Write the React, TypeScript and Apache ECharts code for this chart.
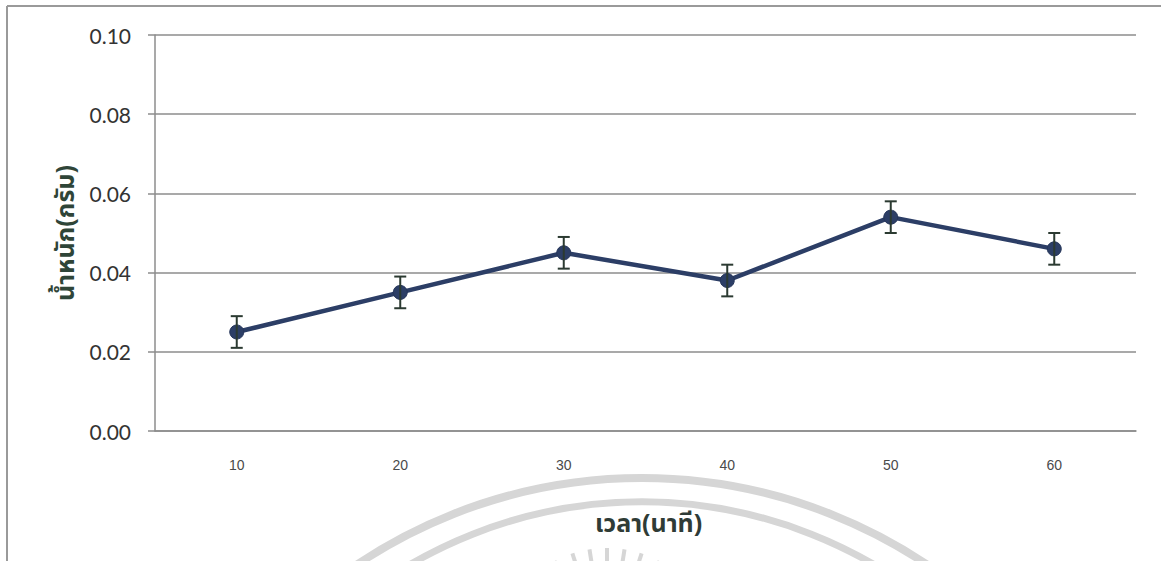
import React, { useEffect, useRef } from "react";
import * as echarts from "echarts";

// Time points (minutes) and measured weight (grams) with ± error
const categories = ["10", "20", "30", "40", "50", "60"];
const weights = [0.025, 0.035, 0.045, 0.038, 0.054, 0.046];
const errors = [0.004, 0.004, 0.004, 0.004, 0.004, 0.004];
const yTicks = { min: 0, max: 0.1, interval: 0.02 };

const xTitle = "เวลา(นาที)";
const yTitle = "น้ำหนัก(กรัม)";

const THAI_FONT =
  "'Noto Sans Thai', 'Tlwg Typist', 'Garuda', 'Loma', 'Norasi', 'Noto Sans', 'DejaVu Sans', sans-serif";

export default function App() {
  const ref = useRef<HTMLDivElement>(null);

  useEffect(() => {
    if (!ref.current) return;
    const chart = echarts.init(ref.current, null, { renderer: "svg" });

    const errData = weights.map((w, i) => [i, w - errors[i], w + errors[i]]);

    // faint seal arcs and rays in the lower band
    const wmColor = "#d6d6d6";
    const rays: any[] = [];
    const rayAngles = [-28, -18, -9, 0, 9, 18, 28];
    const rc = { x: 607, y: 660 };
    rayAngles.forEach((a) => {
      const rad = (a * Math.PI) / 180;
      const r1 = 98;
      const r2 = 112;
      rays.push({
        type: "line",
        z: -10,
        silent: true,
        shape: {
          x1: rc.x + Math.sin(rad) * r1,
          y1: rc.y - Math.cos(rad) * r1,
          x2: rc.x + Math.sin(rad) * r2,
          y2: rc.y - Math.cos(rad) * r2,
        },
        style: { stroke: wmColor, lineWidth: 4 },
      });
    });

    chart.setOption({
      animation: false,
      backgroundColor: "#ffffff",
      grid: { left: 155, right: 25, top: 35, bottom: 130, containLabel: false },
      graphic: [
        {
          type: "arc",
          z: -10,
          silent: true,
          shape: { cx: 642, cy: 990, r: 512, startAngle: Math.PI, endAngle: 2 * Math.PI },
          style: { stroke: wmColor, lineWidth: 8, fill: "none" },
        },
        {
          type: "arc",
          z: -10,
          silent: true,
          shape: { cx: 642, cy: 962, r: 460, startAngle: Math.PI, endAngle: 2 * Math.PI },
          style: { stroke: wmColor, lineWidth: 7, fill: "none" },
        },
        ...rays,
        {
          type: "line",
          silent: true,
          shape: { x1: 7, y1: 6, x2: 1161, y2: 6 },
          style: { stroke: "#9a9a9a", lineWidth: 2 },
        },
        {
          type: "line",
          silent: true,
          shape: { x1: 7, y1: 6, x2: 7, y2: 561 },
          style: { stroke: "#9a9a9a", lineWidth: 2 },
        },
      ],
      xAxis: {
        type: "category",
        data: categories,
        boundaryGap: true,
        name: xTitle,
        nameLocation: "middle",
        nameGap: 80,
        nameTextStyle: {
          fontFamily: THAI_FONT,
          fontSize: 25,
          fontWeight: "bold",
          color: "#2f3b36",
          padding: [0, 0, 0, 6],
        },
        axisLine: { lineStyle: { color: "#8c8c8c", width: 1.5 } },
        axisTick: { show: false },
        axisLabel: {
          margin: 27,
          fontFamily: "'Liberation Sans', Arial, sans-serif",
          fontSize: 14,
          color: "#4a4a4a",
        },
        splitLine: { show: false },
      },
      yAxis: {
        type: "value",
        min: yTicks.min,
        max: yTicks.max,
        interval: yTicks.interval,
        name: yTitle,
        nameLocation: "middle",
        nameGap: 70,
        nameRotate: 90,
        nameTextStyle: {
          fontFamily: THAI_FONT,
          fontSize: 25,
          fontWeight: "bold",
          color: "#2f4538",
        },
        axisLine: { show: true, lineStyle: { color: "#8c8c8c", width: 1.5 } },
        axisTick: { show: true, length: 7, lineStyle: { color: "#8c8c8c", width: 1.5 } },
        axisLabel: {
          margin: 24,
          fontFamily: "Lato, 'Open Sans', sans-serif",
          fontSize: 21,
          color: "#333",
          formatter: (v: number) => v.toFixed(2),
        },
        splitLine: { show: true, lineStyle: { color: "#8c8c8c", width: 1.5 } },
      },
      series: [
        {
          type: "line",
          data: weights,
          symbol: "circle",
          symbolSize: 14,
          z: 3,
          lineStyle: { color: "#2c3e66", width: 4.5 },
          itemStyle: { color: "#2c3e66", borderColor: "#26365a", borderWidth: 1 },
        },
        {
          type: "custom",
          z: 4,
          data: errData,
          renderItem: (params: any, api: any) => {
            const i = api.value(0);
            const lo = api.coord([i, api.value(1)]);
            const hi = api.coord([i, api.value(2)]);
            const half = 6;
            const style = { stroke: "#2b3a31", lineWidth: 2 };
            return {
              type: "group",
              children: [
                { type: "line", shape: { x1: hi[0], y1: hi[1], x2: lo[0], y2: lo[1] }, style },
                { type: "line", shape: { x1: hi[0] - half, y1: hi[1], x2: hi[0] + half, y2: hi[1] }, style },
                { type: "line", shape: { x1: lo[0] - half, y1: lo[1], x2: lo[0] + half, y2: lo[1] }, style },
              ],
            };
          },
        },
      ],
    });

    return () => chart.dispose();
  }, []);

  return (
    <div
      ref={ref}
      style={{ position: "absolute", left: 0, top: 0, width: 1161, height: 561 }}
    />
  );
}
